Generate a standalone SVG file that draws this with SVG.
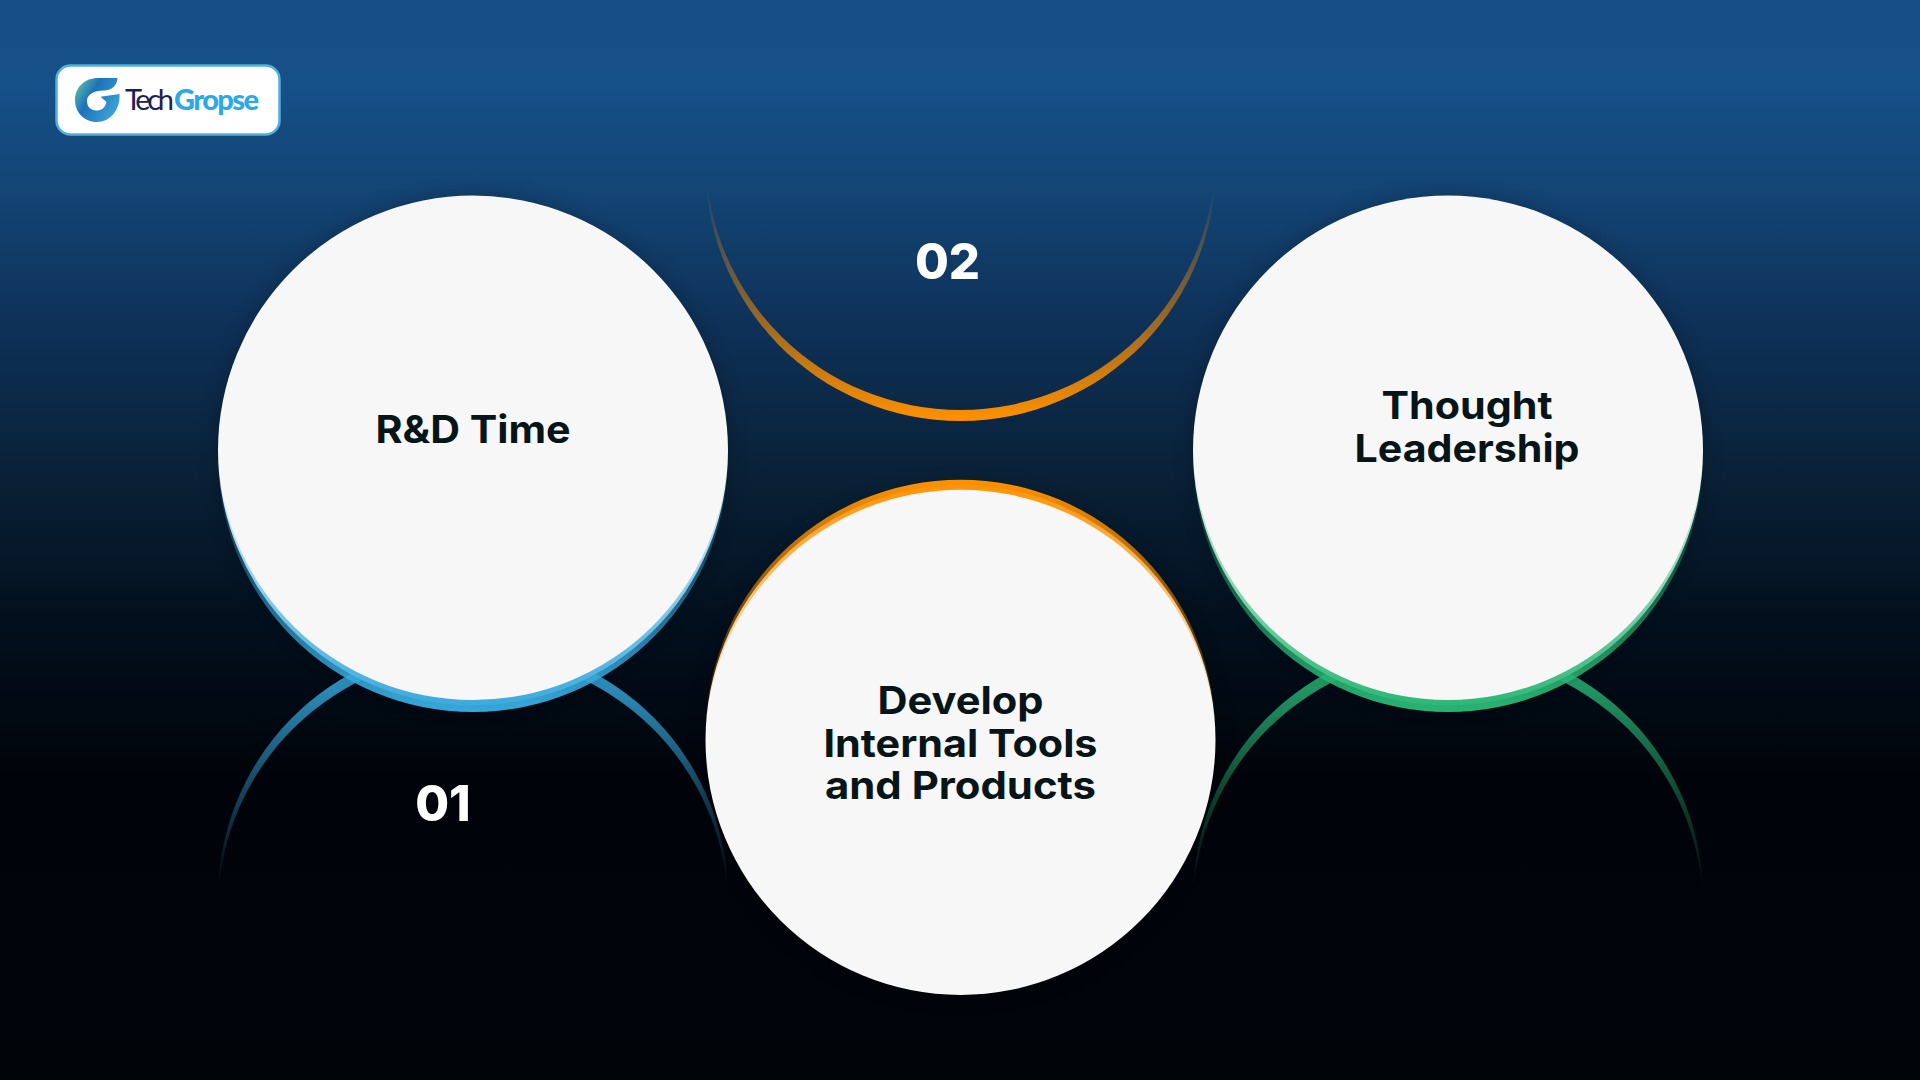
<svg xmlns="http://www.w3.org/2000/svg" width="1920" height="1080" viewBox="0 0 1920 1080">
<defs>
<linearGradient id="bg" x1="0" y1="0" x2="0" y2="1">
<stop offset="0" stop-color="#154f86"/><stop offset="0.08" stop-color="#155087"/><stop offset="0.18" stop-color="#134474"/><stop offset="0.3" stop-color="#0e3158"/><stop offset="0.43" stop-color="#0a2239"/><stop offset="0.58" stop-color="#020f1c"/><stop offset="0.72" stop-color="#00040a"/><stop offset="1" stop-color="#01050a"/>
</linearGradient>
<linearGradient id="bBand" gradientUnits="userSpaceOnUse" x1="0" y1="712" x2="0" y2="450"><stop offset="0" stop-color="#36a8dc"/><stop offset="1" stop-color="#36a8dc" stop-opacity="0"/></linearGradient>
<linearGradient id="gBand" gradientUnits="userSpaceOnUse" x1="0" y1="712" x2="0" y2="450"><stop offset="0" stop-color="#27b574"/><stop offset="1" stop-color="#27b574" stop-opacity="0"/></linearGradient>
<linearGradient id="oBand" gradientUnits="userSpaceOnUse" x1="0" y1="480" x2="0" y2="730"><stop offset="0" stop-color="#ff9100"/><stop offset="1" stop-color="#ff9100" stop-opacity="0"/></linearGradient>
<linearGradient id="bArc" gradientUnits="userSpaceOnUse" x1="0" y1="642" x2="0" y2="888"><stop offset="0" stop-color="#36a8dc"/><stop offset="1" stop-color="#36a8dc" stop-opacity="0"/></linearGradient>
<linearGradient id="gArc" gradientUnits="userSpaceOnUse" x1="0" y1="642" x2="0" y2="888"><stop offset="0" stop-color="#27b574"/><stop offset="1" stop-color="#27b574" stop-opacity="0"/></linearGradient>
<linearGradient id="oArc" gradientUnits="userSpaceOnUse" x1="0" y1="421" x2="0" y2="182"><stop offset="0" stop-color="#ff9100"/><stop offset="1" stop-color="#ff9100" stop-opacity="0"/></linearGradient>
<linearGradient id="logoG" x1="0" y1="0.2" x2="1" y2="0.8"><stop offset="0" stop-color="#58bdb0"/><stop offset="0.35" stop-color="#1d72b8"/><stop offset="1" stop-color="#3fa9dd"/></linearGradient>
<filter id="halo" x="-20%" y="-20%" width="140%" height="140%"><feGaussianBlur stdDeviation="10"/></filter>
<style>
.disc{fill:#f7f7f7}
.shadow{fill:#000;opacity:.25;filter:url(#halo)}
.label{font-family:"Inter","Liberation Sans",sans-serif;font-weight:700;font-size:38px;fill:#071418;text-anchor:middle}
.num{font-family:"Inter","Liberation Sans",sans-serif;font-weight:800;font-size:49px;fill:#fff;text-anchor:middle}
</style>
</defs>
<rect id="background" width="1920" height="1080" fill="url(#bg)"/>
<g id="logo">
<rect x="56.5" y="65.5" width="223" height="69" rx="14" fill="#fff" stroke="#4fb0dc" stroke-width="2.5"/>
<path d="M117.5 78C117 86 112 90 104 90.5C93 90.5 87 95 87 101C87 107 91 110.5 96.5 110.5C101 110.5 105 108.5 106.5 102L100.5 96.8L119.5 94C120.5 110 110 122 97 122C84 122 75 112 75 100C75 87 85 78 98 78Z" fill="url(#logoG)"/>
<text x="125" y="110" font-family="Lato,'Liberation Sans',sans-serif" font-weight="400" font-size="29" fill="#1c2150" textLength="49">Tech</text>
<text x="174" y="110" font-family="Lato,'Liberation Sans',sans-serif" font-weight="900" font-size="29" fill="#2aa9e8" textLength="85">Gropse</text>
</g>
<g id="connectors">
<path d="M218.07 903.5A255 255 0 1 1 727.93 903.5A255 255 0 0 0 218.07 903.5Z" fill="url(#bArc)"/>
<path d="M1193.07 903.5A255 255 0 1 1 1702.93 903.5A255 255 0 0 0 1193.07 903.5Z" fill="url(#gArc)"/>
<path d="M705.56 160.5A255 255 0 1 0 1215.44 160.5A255 255 0 0 1 705.56 160.5Z" fill="url(#oArc)"/>
</g>
<g id="node-rd">
<circle class="shadow" cx="473" cy="450.5" r="255"/>
<circle class="disc" cx="473" cy="450.5" r="255"/>
<path d="M218.07 451A255 255 0 1 0 727.93 451A255 255 0 0 1 218.07 451Z" fill="url(#bBand)"/>
<text class="label" x="473" y="443" textLength="195" lengthAdjust="spacingAndGlyphs">R&amp;D Time</text>
</g>
<g id="node-thought">
<circle class="shadow" cx="1448" cy="450.5" r="255"/>
<circle class="disc" cx="1448" cy="450.5" r="255"/>
<path d="M1193.07 451A255 255 0 1 0 1702.93 451A255 255 0 0 1 1193.07 451Z" fill="url(#gBand)"/>
<text class="label" x="1467" y="419" textLength="171" lengthAdjust="spacingAndGlyphs">Thought</text>
<text class="label" x="1467" y="461.5" textLength="225" lengthAdjust="spacingAndGlyphs">Leadership</text>
</g>
<g id="node-develop">
<circle class="shadow" cx="960.5" cy="740" r="255"/>
<circle class="disc" cx="960.5" cy="740" r="255"/>
<path d="M705.55 739.75A255 255 0 1 1 1215.45 739.75A255 255 0 0 0 705.55 739.75Z" fill="url(#oBand)"/>
<text class="label" x="960.5" y="714" textLength="166" lengthAdjust="spacingAndGlyphs">Develop</text>
<text class="label" x="960.5" y="756.5" textLength="274" lengthAdjust="spacingAndGlyphs">Internal Tools</text>
<text class="label" x="960.5" y="799" textLength="271" lengthAdjust="spacingAndGlyphs">and Products</text>
</g>
<text id="num-01" class="num" x="443" y="820.5">01</text>
<text id="num-02" class="num" x="947.5" y="278.5">02</text>
</svg>
